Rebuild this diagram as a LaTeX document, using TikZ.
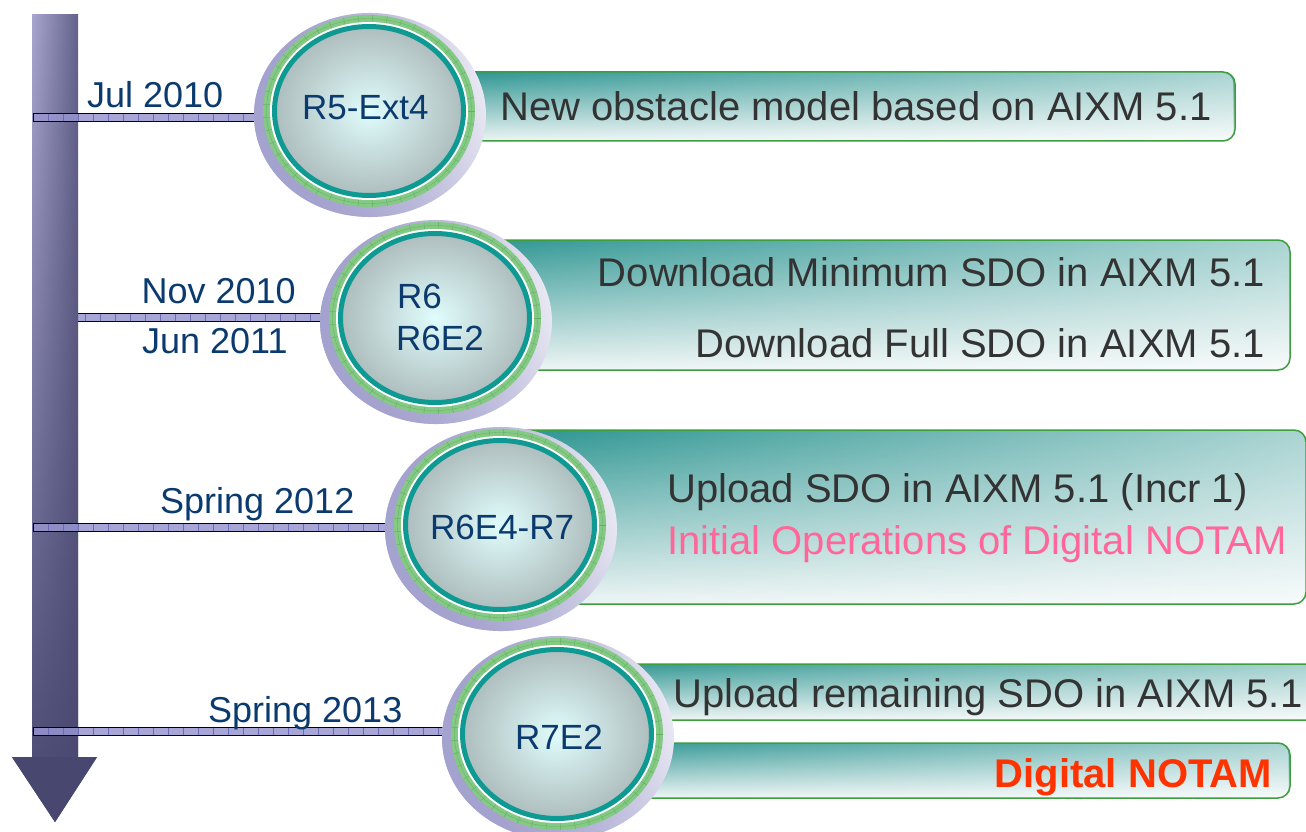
\documentclass[tikz,border=0pt]{standalone}
\usepackage{fontspec}
\setmainfont{Liberation Sans}
\usetikzlibrary{fadings}

\definecolor{navy}{HTML}{0B3B6E}
\definecolor{boxtext}{HTML}{333333}
\definecolor{pinktext}{HTML}{FF6699}
\definecolor{redtext}{HTML}{FF3300}
\definecolor{boxgreen}{HTML}{3D9E3D}
\definecolor{boxteal}{HTML}{2A9490}
\definecolor{boxlight}{HTML}{EEF5F5}
\definecolor{ringlav}{HTML}{A4A2CE}
\definecolor{ringpale}{HTML}{F6F6FB}
\definecolor{ringgreen}{HTML}{84C984}
\definecolor{gridgreen}{HTML}{64AE64}
\definecolor{tealring}{HTML}{0E9A92}
\definecolor{glow}{HTML}{E0FCFC}
\definecolor{glowedge}{HTML}{AEBDBD}
\definecolor{barfill}{HTML}{9896D0}
\definecolor{barline}{HTML}{6C6AB4}
\definecolor{shaftlight}{HTML}{A8A6CE}
\definecolor{shaftdark}{HTML}{62628C}
\definecolor{arrowdeep}{HTML}{47476F}

\tikzfading[name=boxfade, left color=transparent!100, right color=transparent!40]
\tikzfading[name=shaftfade, top color=transparent!100, bottom color=transparent!0]
\tikzfading[name=lavwest, left color=transparent!0, middle color=transparent!100, right color=transparent!100]
\tikzfading[name=lavsouth, top color=transparent!100, middle color=transparent!100, bottom color=transparent!0]

% one timeline bar: from x #1 to x #2, centred on height #3
\newcommand\tlbar[3]{%
  \begin{scope}
    \clip (#1,#3-4) rectangle (#2,#3+4);
    \fill[barfill, opacity=0.85] (#1,#3-4) rectangle (#2,#3+4);
    \foreach \dx in {0,15,...,450} \draw[barline, line width=0.6] (#1+\dx,#3-4) -- (#1+\dx,#3+4);
  \end{scope}
  \draw[black, line width=1] (#1,#3-4) rectangle (#2,#3+4);
}

% one release medallion: name #1, centre (#2,#3)
\newcommand\msring[3]{%
  \begin{scope}[shift={(#2,#3)}]
    \fill[ringpale] (1,4) ellipse [x radius=116, y radius=102];
    \fill[ringlav, path fading=lavwest, fading angle=-20] (1,4) ellipse [x radius=116, y radius=102];
    \fill[ringlav, path fading=lavsouth, fading angle=-45] (1,4) ellipse [x radius=116, y radius=102];
    \fill[ringgreen] (0,0) ellipse [x radius=106, y radius=96];
    \draw[gridgreen, line width=0.3] (0,0) ellipse [x radius=102.5, y radius=92.5];
    \foreach \a in {0,8,...,352}
      \draw[gridgreen, line width=0.4] ({99*cos(\a)},{89*sin(\a)}) -- ({106*cos(\a)},{96*sin(\a)});
    \fill[white] (0,0) ellipse [x radius=99, y radius=89];
    \fill[inner color=glow, outer color=glowedge] (0,0) ellipse [x radius=95, y radius=85];
    \draw[tealring, line width=5] (0,0) ellipse [x radius=94.5, y radius=84.5];
    \coordinate (#1) at (0,0);
  \end{scope}
}

\tikzset{
  msbox/.style={rounded corners=12, draw=boxgreen, line width=1.5},
  boxlabel/.style={inner sep=0, text=boxtext, font=\fontsize{40}{48}\selectfont},
  datelabel/.style={inner sep=0, text=navy, font=\fontsize{36}{42}\selectfont, anchor=base west},
  ringlabel/.style={inner sep=0, text=navy, font=\fontsize{35}{42}\selectfont, anchor=base west},
}

% a gradient box with its outline
\newcommand\gradbox[4]{%
  \fill[top color=boxteal, bottom color=boxlight, rounded corners=12] (#1,#2) rectangle (#3,#4);
  \fill[white, path fading=boxfade, rounded corners=12] (#1,#2) rectangle (#3,#4);
  \draw[msbox] (#1,#2) rectangle (#3,#4);
}

\begin{document}
\begin{tikzpicture}[x=1pt, y=-1pt]
  \useasboundingbox (0,0) rectangle (1306,832);
  \clip (0,0) rectangle (1306,832);

  % bar of the second release sits behind the time arrow
  \tlbar{40}{335}{317}

  % time arrow
  \fill[left color=shaftlight, right color=shaftdark] (32,15) rectangle (78,757);
  \fill[arrowdeep] (12,757) -- (97,757) -- (55,822) -- cycle;
  \fill[arrowdeep, path fading=shaftfade] (32,15) -- (78,15) -- (78,757) -- (97,757) -- (55,822) -- (12,757) -- (32,757) -- cycle;
  \coordinate (timeline) at (55,15);

  % bars of the other releases
  \tlbar{33}{270}{118}
  \tlbar{33}{400}{527}
  \tlbar{33}{455}{731}

  % feature boxes
  \gradbox{440}{72}{1235}{141}
  \gradbox{440}{240}{1290}{370}
  \gradbox{500}{430}{1306}{604}
  \gradbox{560}{664}{1330}{720}
  \gradbox{560}{743}{1290}{798}

  % release medallions
  \msring{r1}{369}{111}
  \msring{r2}{435}{318}
  \msring{r3}{500}{525}
  \msring{r4}{557}{734}

  % dates
  \node[datelabel] (d1) at (87,108) {Jul 2010};
  \node[datelabel, anchor=base east] (d2a) at (296,303) {Nov 2010};
  \node[datelabel] (d2b) at (142,353) {Jun 2011};
  \node[datelabel] (d3) at (160,513) {Spring 2012};
  \node[datelabel] (d4) at (208,722) {Spring 2013};

  % release names
  \node[ringlabel] (n1) at (302,120) {R5-Ext4};
  \node[ringlabel] (n2a) at (397,308) {R6};
  \node[ringlabel] (n2b) at (396,350) {R6E2};
  \node[ringlabel] (n3) at (430,539) {R6E4-R7};
  \node[ringlabel] (n4) at (515,749) {R7E2};

  % features
  \node[boxlabel, anchor=base west] (f1) at (500,121) {New obstacle model based on AIXM 5.1};
  \node[boxlabel, anchor=base east] (f2a) at (1265,286) {Download Minimum SDO in AIXM 5.1};
  \node[boxlabel, anchor=base east] (f2b) at (1265,357) {Download Full SDO in AIXM 5.1};
  \node[boxlabel, anchor=base west] (f3a) at (667,502) {Upload SDO in AIXM 5.1 (Incr 1)};
  \node[boxlabel, anchor=base west, text=pinktext] (f3b) at (667,554) {Initial Operations of Digital NOTAM};
  \node[boxlabel, anchor=base west] (f4a) at (673,707) {Upload remaining SDO in AIXM 5.1};
  \node[boxlabel, anchor=base east, text=redtext, font=\fontsize{40}{48}\selectfont\bfseries] (f4b) at (1272,787) {Digital NOTAM};
\end{tikzpicture}
\end{document}
